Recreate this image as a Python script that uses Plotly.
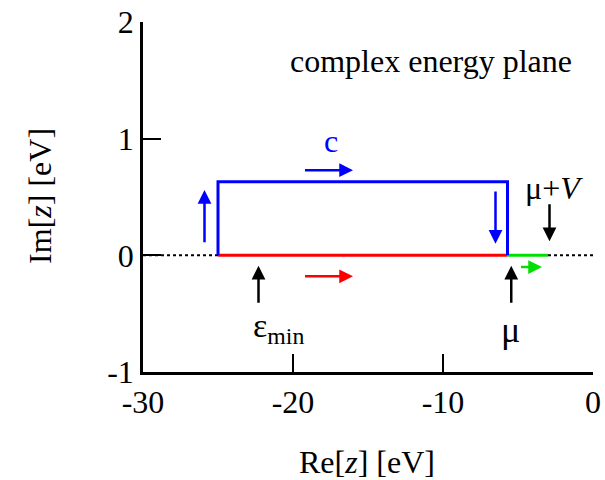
import plotly.graph_objects as go

# ---- data (eV) ----
e_min = -25.0
mu = -5.7
mu_plus_V = -3.0
contour_height = 0.63
x_start, x_end = -30.0, 0.0

x_ticks = [-30, -20, -10, 0]
y_ticks = [-1, 0, 1, 2]

# arrows: (x_head, y_head, x_tail, y_tail, color)
arrows = [
    (-25.9, 0.56, -25.9, 0.10, "blue"),
    (-16.0, 0.73, -19.3, 0.73, "blue"),
    (-6.5, 0.10, -6.5, 0.56, "blue"),
    (-16.0, -0.18, -19.3, -0.18, "red"),
    (-3.4, -0.10, -4.9, -0.10, "#00e000"),
    (-22.3, -0.09, -22.3, -0.42, "black"),
    (-5.45, -0.09, -5.45, -0.42, "black"),
    (-2.9, 0.12, -2.9, 0.45, "black"),
]

FONT = "Liberation Serif"
FS = 32

fig = go.Figure()
# dotted real axis segments
fig.add_trace(go.Scatter(x=[x_start, e_min], y=[0, 0], mode="lines",
                         line=dict(color="black", width=2, dash="dot"), showlegend=False))
fig.add_trace(go.Scatter(x=[mu_plus_V, x_end], y=[0, 0], mode="lines",
                         line=dict(color="black", width=2, dash="dot"), showlegend=False))
# red segment
fig.add_trace(go.Scatter(x=[e_min, mu], y=[0, 0], mode="lines",
                         line=dict(color="red", width=3), showlegend=False))
# green segment
fig.add_trace(go.Scatter(x=[mu, mu_plus_V], y=[0, 0], mode="lines",
                         line=dict(color="#00e000", width=3), showlegend=False))
# blue contour
fig.add_trace(go.Scatter(x=[e_min, e_min, mu, mu], y=[0, contour_height, contour_height, 0],
                         mode="lines", line=dict(color="blue", width=3), showlegend=False))

for xh, yh, xt, yt, col in arrows:
    fig.add_annotation(x=xh, y=yh, ax=xt, ay=yt, xref="x", yref="y", axref="x", ayref="y",
                       text="", showarrow=True, arrowhead=2, arrowsize=1.1, arrowwidth=2.5,
                       arrowcolor=col)

fig.add_annotation(x=-10.8, y=1.67, xref="x", yref="y", text="complex energy plane",
                   showarrow=False, font=dict(family=FONT, size=FS, color="black"))
fig.add_annotation(x=-17.5, y=0.98, xref="x", yref="y", text="c",
                   showarrow=False, font=dict(family=FONT, size=FS, color="blue"))
fig.add_annotation(x=-21.0, y=-0.62, xref="x", yref="y",
                   text="ε<sub>min</sub>", showarrow=False,
                   font=dict(family=FONT, size=34, color="black"))
fig.add_annotation(x=-5.5, y=-0.64, xref="x", yref="y", text="μ",
                   showarrow=False, font=dict(family=FONT, size=36, color="black"))
fig.add_annotation(x=-2.6, y=0.58, xref="x", yref="y", text="μ+<i>V</i>",
                   showarrow=False, font=dict(family=FONT, size=FS, color="black"))

# axis titles
fig.add_annotation(x=-0.229, y=0.503, xref="paper", yref="paper", xanchor="center",
                   yanchor="middle", text="Im[<i>z</i>] [eV]",
                   textangle=-90, showarrow=False, font=dict(family=FONT, size=FS, color="black"))
fig.add_annotation(x=0.498, y=-0.257, xref="paper", yref="paper", xanchor="center",
                   yanchor="middle", text="Re[<i>z</i>] [eV]",
                   showarrow=False, font=dict(family=FONT, size=FS, color="black"))

fig.update_layout(
    width=605, height=480,
    margin=dict(l=143, r=12, t=22, b=108),
    plot_bgcolor="white", paper_bgcolor="white",
    font=dict(family=FONT, size=FS, color="black"),
    xaxis=dict(range=[x_start, x_end], tickvals=x_ticks, ticktext=[str(v) for v in x_ticks],
               ticks="inside", ticklen=18, tickwidth=2, tickcolor="black", automargin=False,
               showline=True, linecolor="black", linewidth=2.5, showgrid=False, zeroline=False,
               tickfont=dict(family=FONT, size=FS)),
    yaxis=dict(range=[-1, 2], tickvals=y_ticks, ticktext=[str(v) for v in y_ticks],
               ticks="inside", ticklen=18, tickwidth=2, tickcolor="black", automargin=False,
               showline=True, linecolor="black", linewidth=2.5, showgrid=False, zeroline=False,
               tickfont=dict(family=FONT, size=FS)),
)

fig.write_html("out.html")
